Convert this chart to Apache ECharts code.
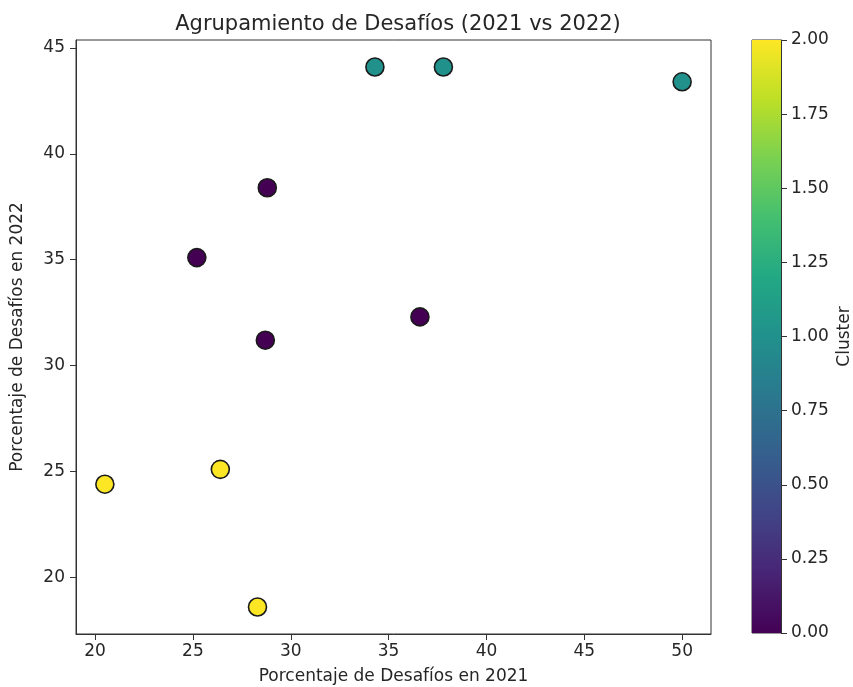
<!DOCTYPE html>
<html>
<head>
<meta charset="utf-8">
<script src="https://cdn.jsdelivr.net/npm/echarts@6/dist/echarts.min.js"></script>
<style>html,body{margin:0;padding:0;background:#fff}#c{width:853px;height:687px}</style>
</head>
<body>
<div id="c"></div>
<script>
// Data
const x2021 = [34.3, 37.8, 50.0, 28.8, 25.2, 36.6, 28.7, 20.5, 26.4, 28.3];
const y2022 = [44.1, 44.1, 43.4, 38.4, 35.1, 32.3, 31.2, 24.4, 25.1, 18.6];
const cluster = [1, 1, 1, 0, 0, 0, 0, 2, 2, 2];
const xTicks = [20, 25, 30, 35, 40, 45, 50];
const yTicks = [20, 25, 30, 35, 40, 45];
const cbTicks = ['0.00','0.25','0.50','0.75','1.00','1.25','1.50','1.75','2.00'];

const viridis = ['#440154','#482475','#414487','#355f8d','#2a788e','#21918c','#22a884','#44bf70','#7ad151','#bddf26','#fde725'];
function hexToRgb(h){return [parseInt(h.slice(1,3),16),parseInt(h.slice(3,5),16),parseInt(h.slice(5,7),16)];}
function viridisAt(t){
  t=Math.max(0,Math.min(1,t));
  const p=t*(viridis.length-1), i=Math.min(Math.floor(p),viridis.length-2), f=p-i;
  const a=hexToRgb(viridis[i]), b=hexToRgb(viridis[i+1]);
  return 'rgb('+a.map((v,k)=>Math.round(v+(b[k]-v)*f)).join(',')+')';
}

const xMin = 20.5 - 0.05*(50-20.5), xMax = 50 + 0.05*(50-20.5);
const yMin = 18.6 - 0.05*(44.1-18.6), yMax = 44.1 + 0.05*(44.1-18.6);

const font = 'DejaVu Sans';
const txt = '#262626';
const pts = x2021.map((x,i)=>[x, y2022[i], cluster[i]]);

const chart = echarts.init(document.getElementById('c'));
chart.setOption({
  backgroundColor:'#fff',
  animation:false,
  title:{text:'Agrupamiento de Desafíos (2021 vs 2022)', left:393, top:9, textAlign:'center',
    textStyle:{fontFamily:font, fontSize:21, fontWeight:'normal', color:txt}},
  grid:[
    {left:76, top:40, width:635, height:594, outerBoundsMode:'none', containLabel:false, show:true, borderColor:'#333', borderWidth:1, backgroundColor:'transparent'},
    {left:752, top:40, width:29, height:593, outerBoundsMode:'none', containLabel:false, show:true, borderColor:'#333', borderWidth:1, backgroundColor:'transparent'}
  ],
  xAxis:[
    {type:'value', gridIndex:0, min:xMin, max:xMax, interval:5,
     name:'Porcentaje de Desafíos en 2021', nameLocation:'middle', nameGap:34,
     nameTextStyle:{fontFamily:font, fontSize:17, color:txt},
     axisLine:{show:true, onZero:false, lineStyle:{color:'#333'}},
     axisTick:{show:true, length:6, lineStyle:{color:'#333'}, customValues:xTicks},
     axisLabel:{fontFamily:font, fontSize:17, color:txt, margin:9, customValues:xTicks},
     splitLine:{show:false}},
    {type:'category', gridIndex:1, data:[''], show:false, boundaryGap:true}
  ],
  yAxis:[
    {type:'value', gridIndex:0, min:yMin, max:yMax,
     name:'Porcentaje de Desafíos en 2022', nameLocation:'middle', nameGap:50,
     nameTextStyle:{fontFamily:font, fontSize:17, color:txt},
     axisLine:{show:true, onZero:false, lineStyle:{color:'#333'}},
     axisTick:{show:true, length:6, lineStyle:{color:'#333'}, customValues:yTicks},
     axisLabel:{fontFamily:font, fontSize:17, color:txt, margin:11, customValues:yTicks},
     splitLine:{show:false}},
    {type:'value', gridIndex:1, min:0, max:2, interval:0.25, position:'right',
     name:'Cluster', nameLocation:'middle', nameGap:55, nameRotate:90,
     nameTextStyle:{fontFamily:font, fontSize:17, color:txt},
     axisLine:{show:true, lineStyle:{color:'#333'}},
     axisTick:{show:true, length:6, lineStyle:{color:'#333'}},
     axisLabel:{fontFamily:font, fontSize:17, color:txt, margin:10, formatter:v=>v.toFixed(2)},
     splitLine:{show:false}}
  ],
  series:[
    {type:'scatter', xAxisIndex:0, yAxisIndex:0, data:pts, symbolSize:18,
     itemStyle:{color:p=>viridisAt(p.value[2]/2), borderColor:'#1a1a1a', borderWidth:1.6, opacity:1}},
    {type:'bar', xAxisIndex:1, yAxisIndex:1, data:[2], barWidth:'100%', silent:true,
     itemStyle:{color:new echarts.graphic.LinearGradient(0,1,0,0, viridis.map((c,i)=>({offset:i/(viridis.length-1), color:c})))}}
  ]
});
</script>
</body>
</html>
